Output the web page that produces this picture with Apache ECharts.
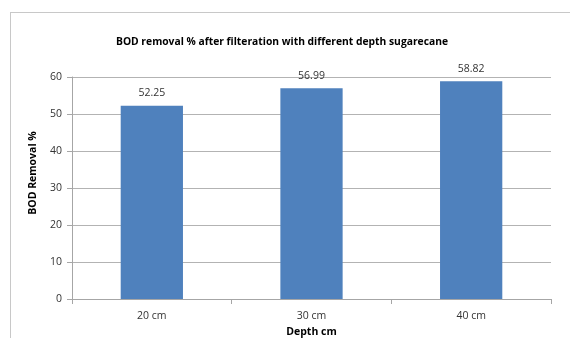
<!DOCTYPE html>
<html><head><meta charset="utf-8">
<script src="https://cdn.jsdelivr.net/npm/echarts@6/dist/echarts.min.js"></script>
<style>html,body{margin:0;padding:0;background:#fff}#c{width:570px;height:338px;position:relative}
#frame{position:absolute;left:10px;top:12px;width:570px;height:340px;border-left:1px solid #c8c8c8;border-top:1px solid #c8c8c8;pointer-events:none}</style>
</head><body><div id="c"></div><div id="frame"></div>
<script>
const categories = ['20 cm', '30 cm', '40 cm'];
const bodRemoval = [52.25, 56.99, 58.82];
const yTicks = [0, 10, 20, 30, 40, 50, 60];
const titleText = 'BOD removal % after filteration with different depth sugarecane';
const F = '"Open Sans", "Noto Sans", sans-serif';
const chart = echarts.init(document.getElementById('c'), null, {renderer: 'canvas'});
chart.setOption({
  animation: false,
  title: {text: titleText, left: 277, top: 32, textAlign: 'center',
    textStyle: {fontFamily: F, fontSize: 10.3, fontWeight: 'bold', color: '#000'}},
  grid: {left: 72, right: 19, top: 77, bottom: 39, containLabel: false, outerBoundsMode: 'none'},
  xAxis: {type: 'category', data: categories,
    name: 'Depth cm', nameLocation: 'middle', nameGap: 26,
    nameTextStyle: {fontFamily: F, fontSize: 10.5, fontWeight: 'bold', color: '#000'},
    axisLine: {lineStyle: {color: '#a6a6a6'}},
    axisTick: {show: true, length: 5, lineStyle: {color: '#a6a6a6'}},
    axisLabel: {fontFamily: F, fontSize: 10.5, color: '#333', margin: 12}},
  yAxis: {type: 'value', min: yTicks[0], max: yTicks[yTicks.length-1], interval: 10,
    name: 'BOD Removal %', nameLocation: 'middle', nameGap: 33,
    nameTextStyle: {fontFamily: F, fontSize: 10.5, fontWeight: 'bold', color: '#000', padding: [0, 0, 0, 30]},
    axisLine: {show: true, lineStyle: {color: '#a6a6a6'}},
    axisTick: {show: true, length: 5, lineStyle: {color: '#a6a6a6'}},
    axisLabel: {fontFamily: F, fontSize: 10.5, color: '#333', margin: 10},
    splitLine: {lineStyle: {color: '#b3b3b3'}}},
  series: [{type: 'bar', data: bodRemoval, barWidth: '39%',
    itemStyle: {color: '#4f81bd'},
    label: {show: true, position: 'top', distance: 7, fontFamily: F, fontSize: 10.5, color: '#333',
      formatter: p => p.value.toFixed(2)}}]
});
</script></body></html>
